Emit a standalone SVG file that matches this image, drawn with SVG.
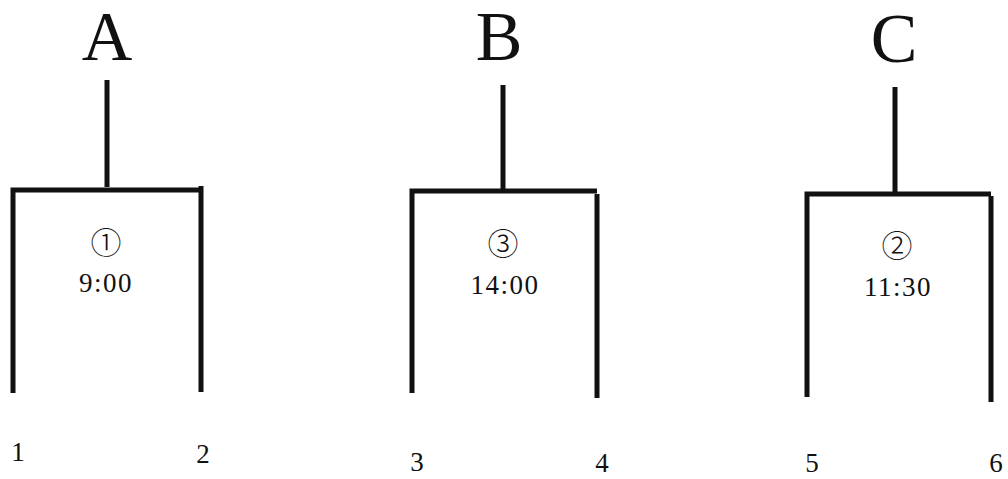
<svg xmlns="http://www.w3.org/2000/svg" width="1008" height="479" viewBox="0 0 1008 479">
<style>
.ln{stroke:#111;stroke-width:5;fill:none;stroke-linecap:butt}
.big{font-family:"Liberation Serif","Noto Serif CJK JP",serif;font-size:70px;fill:#111;text-anchor:middle}
.t{font-family:"Liberation Serif","Noto Sans CJK JP",serif;font-size:27px;fill:#111;text-anchor:middle;letter-spacing:1.5px}
.c{font-family:"Noto Sans CJK JP","DejaVu Sans",sans-serif;font-size:31px;fill:#111;text-anchor:middle;font-weight:300}
.n{font-family:"Liberation Serif",serif;font-size:27px;fill:#111;text-anchor:middle}
</style>
<rect width="1008" height="479" fill="#fff"/>
<g id="connectors">
<path class="ln" d="M107 80V187"/>
<path class="ln" d="M13 393V190H201M201 186V392"/>
<path class="ln" d="M503 85V192"/>
<path class="ln" d="M412 393V191H597M597 194V398"/>
<path class="ln" d="M895 87V194"/>
<path class="ln" d="M807 397V194H991M991 196V402"/>
</g>
<g id="nodeA">
<text class="big" x="107" y="60">A</text>
<text class="c" x="106" y="254">①</text>
<text class="t" x="106" y="292">9:00</text>
</g>
<g id="nodeB">
<text class="big" x="499" y="60">B</text>
<text class="c" x="503" y="255">③</text>
<text class="t" x="505" y="294">14:00</text>
</g>
<g id="nodeC">
<text class="big" x="894" y="62">C</text>
<text class="c" x="897" y="257">②</text>
<text class="t" x="898" y="296">11:30</text>
</g>
<g id="leaves">
<text class="n" x="18" y="461">1</text>
<text class="n" x="203" y="463">2</text>
<text class="n" x="417" y="471">3</text>
<text class="n" x="602" y="472">4</text>
<text class="n" x="812" y="472">5</text>
<text class="n" x="996" y="472">6</text>
</g>
</svg>
